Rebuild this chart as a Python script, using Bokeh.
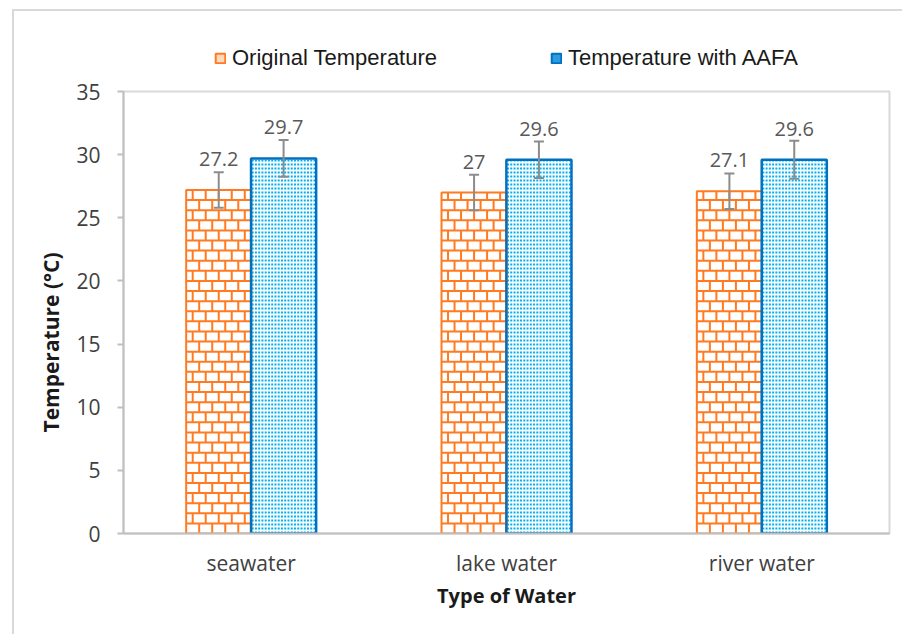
from bokeh.core.properties import value
from bokeh.embed import file_html
from bokeh.layouts import column
from bokeh.models import (ColumnDataSource, FactorRange, FixedTicker, InlineStyleSheet,
                          LabelSet, Legend, LegendItem, Range1d, TeeHead, Whisker)
from bokeh.plotting import figure
from bokeh.resources import INLINE
from bokeh.transform import dodge

# ---- data -------------------------------------------------------------
water_types = ["seawater", "lake water", "river water"]
original_temp = [27.2, 27.0, 27.1]
original_err = [1.4, 1.4, 1.4]
aafa_temp = [29.7, 29.6, 29.6]
aafa_err = [1.45, 1.45, 1.5]
y_ticks = [0, 5, 10, 15, 20, 25, 30, 35]

ORANGE = "#FF7A21"
BLUE_EDGE = "#0070C0"
BLUE_DOT = "#00B0F0"
FRAME_GRAY = "#D9D9D9"
AXIS_GRAY = "#BFBFBF"
ERR_GRAY = "#8C8C8C"

OFF = 0.127   # bar offset from the category centre (category units)
W = 0.255     # bar width (category units)

src = ColumnDataSource(dict(
    water=water_types,
    orig=original_temp,
    orig_lo=[v - e for v, e in zip(original_temp, original_err)],
    orig_hi=[v + e for v, e in zip(original_temp, original_err)],
    orig_txt=[f"{v:g}" for v in original_temp],
    aafa=aafa_temp,
    aafa_lo=[v - e for v, e in zip(aafa_temp, aafa_err)],
    aafa_hi=[v + e for v, e in zip(aafa_temp, aafa_err)],
    aafa_txt=[f"{v:g}" for v in aafa_temp],
))

# ---- fill textures, built from each bar's extent -------------------------
COURSE = 0.8          # brick course height (data units)
BRICK_W = W / 5       # brick length (category units)
brick = dict(x0=[], y0=[], x1=[], y1=[])
for i, height in enumerate(original_temp):
    left = i + 0.5 - OFF - W / 2
    right = left + W
    k = 0
    while k * COURSE < height - 0.15:
        y_lo = k * COURSE
        y_hi = min((k + 1) * COURSE, height)
        if k > 0:  # bed joint
            brick["x0"].append(left); brick["x1"].append(right)
            brick["y0"].append(y_lo); brick["y1"].append(y_lo)
        x = left + (0.5 if k % 2 else 1.0) * BRICK_W
        while x < right - 0.3 * BRICK_W:  # head joints, staggered per course
            brick["x0"].append(x); brick["x1"].append(x)
            brick["y0"].append(y_lo); brick["y1"].append(y_hi)
            x += BRICK_W
        k += 1

DOT_COLS = 20
dots = dict(x0=[], y0=[], x1=[], y1=[])
for i, height in enumerate(aafa_temp):
    left = i + 0.5 + OFF - W / 2
    for j in range(DOT_COLS):
        x = left + (j + 0.5) * W / DOT_COLS
        dots["x0"].append(x); dots["x1"].append(x)
        dots["y0"].append(0); dots["y1"].append(height - 0.1)

# chart-area border (left and top edges of the surrounding box)
top_css = InlineStyleSheet(css="""
:host::after {
  content: ""; position: absolute;
  left: 12px; top: 9px; right: 0; bottom: 0;
  border-left: 2px solid #D9D9D9; border-top: 2px solid #D9D9D9;
  pointer-events: none; z-index: 10;
}
""")
main_css = InlineStyleSheet(css="""
:host::after {
  content: ""; position: absolute;
  left: 12px; top: 0; bottom: 0; width: 0;
  border-left: 2px solid #D9D9D9;
  pointer-events: none; z-index: 10;
}
""")

# ---- legend strip ------------------------------------------------------
TOP_H = 72
top = figure(width=902, height=TOP_H, x_range=Range1d(0, 1), y_range=Range1d(0, 1),
             x_axis_type=None, y_axis_type=None, output_backend="svg",
             toolbar_location=None, min_border=0)
top.outline_line_color = None
top.grid.visible = False
top.stylesheets = [top_css]
# zero-size swatch glyphs: they only supply the legend's visuals
k_orig = top.vbar(x=[0.99], top=[0.99], bottom=[0.99], width=0, fill_color="#FFD9BF",
                  line_color=ORANGE, line_width=2)
k_aafa = top.vbar(x=[0.99], top=[0.99], bottom=[0.99], width=0, fill_color="#2E9BE0",
                  line_color=BLUE_EDGE, line_width=2)
top.add_layout(Legend(
    items=[LegendItem(label="Original Temperature", renderers=[k_orig]),
           LegendItem(label="Temperature with AAFA", renderers=[k_aafa])],
    orientation="horizontal", location=(91, 1),
    glyph_width=12, glyph_height=12, label_standoff=6, spacing=113,
    padding=0, margin=0, border_line_color=None, background_fill_alpha=0,
    label_text_font="Liberation Sans", label_text_font_size="22px",
    label_text_color="#1A1A1A", label_height=22,
))

# ---- main chart --------------------------------------------------------
p = figure(
    width=902, height=634 - TOP_H,
    x_range=FactorRange(*water_types, range_padding=0),
    y_range=Range1d(0, 35),
    output_backend="svg", toolbar_location=None,
    min_border_left=123, min_border_right=13,
    min_border_top=91 - TOP_H, min_border_bottom=101,
)
p.stylesheets = [main_css]
p.background_fill_color = "white"
p.border_fill_color = "white"
p.outline_line_color = FRAME_GRAY
p.outline_line_width = 2
p.xgrid.grid_line_color = None
p.ygrid.grid_line_color = None

x_orig = dodge("water", -OFF, range=p.x_range)
x_aafa = dodge("water", OFF, range=p.x_range)

# white bar bodies, textures, then outlines on top
p.vbar(x=x_orig, top="orig", width=W, source=src, fill_color="white", line_color=None)
p.vbar(x=x_aafa, top="aafa", width=W, source=src, fill_color="white", line_color=None)
p.segment(x0="x0", y0="y0", x1="x1", y1="y1", source=ColumnDataSource(brick),
          line_color=ORANGE, line_width=2)
p.segment(x0="x0", y0="y0", x1="x1", y1="y1", source=ColumnDataSource(dots),
          line_color=BLUE_DOT, line_width=2, line_dash="2 2")
p.vbar(x=x_orig, top="orig", width=W, source=src, fill_alpha=0,
       line_color=ORANGE, line_width=2)
p.vbar(x=x_aafa, top="aafa", width=W, source=src, fill_alpha=0,
       line_color=BLUE_EDGE, line_width=2.5)

for col, xs in (("orig", x_orig), ("aafa", x_aafa)):
    w = Whisker(base=xs, lower=col + "_lo", upper=col + "_hi",
                source=src, line_color=ERR_GRAY, line_width=2, level="overlay")
    w.upper_head = TeeHead(size=10, line_color=ERR_GRAY, line_width=2)
    w.lower_head = TeeHead(size=10, line_color=ERR_GRAY, line_width=2)
    p.add_layout(w)
    p.add_layout(LabelSet(x=xs, y=col, text=col + "_txt",
                          source=src, y_offset=24, text_align="center", text_baseline="bottom",
                          text_font=value("Open Sans"), text_font_size="20px",
                          text_color="#595959"))

# y axis
p.yaxis.ticker = FixedTicker(ticks=y_ticks)
p.yaxis.axis_line_color = AXIS_GRAY
p.yaxis.axis_line_width = 2
p.yaxis.major_tick_line_color = AXIS_GRAY
p.yaxis.major_tick_line_width = 2
p.yaxis.major_tick_out = 6
p.yaxis.major_tick_in = 0
p.yaxis.minor_tick_line_color = None
p.yaxis.major_label_standoff = 17
p.yaxis.major_label_text_font = "Open Sans"
p.yaxis.major_label_text_font_size = "21px"
p.yaxis.major_label_text_color = "#404040"
# trailing no-break spaces push the title a little below the frame's middle
p.yaxis.axis_label = "Temperature (°C)" + "\u00a0" * 11
p.yaxis.axis_label_text_font = "Open Sans"
p.yaxis.axis_label_text_font_style = "bold"
p.yaxis.axis_label_text_font_size = "21px"
p.yaxis.axis_label_text_color = "#1A1A1A"
p.yaxis.axis_label_standoff = 8

# x axis
p.xaxis.axis_line_color = AXIS_GRAY
p.xaxis.axis_line_width = 2
p.xaxis.major_tick_line_color = None
p.xaxis.minor_tick_line_color = None
p.xaxis.major_label_standoff = 9
p.xaxis.major_label_text_font = "Open Sans"
p.xaxis.major_label_text_font_size = "21px"
p.xaxis.major_label_text_color = "#404040"
p.xaxis.axis_label = "Type of Water"
p.xaxis.axis_label_text_font = "Open Sans"
p.xaxis.axis_label_text_font_style = "bold"
p.xaxis.axis_label_text_font_size = "20px"
p.xaxis.axis_label_text_color = "#1A1A1A"
p.xaxis.axis_label_standoff = 2

layout = column(top, p, spacing=0)
open("out.html", "w").write(file_html(layout, INLINE))
